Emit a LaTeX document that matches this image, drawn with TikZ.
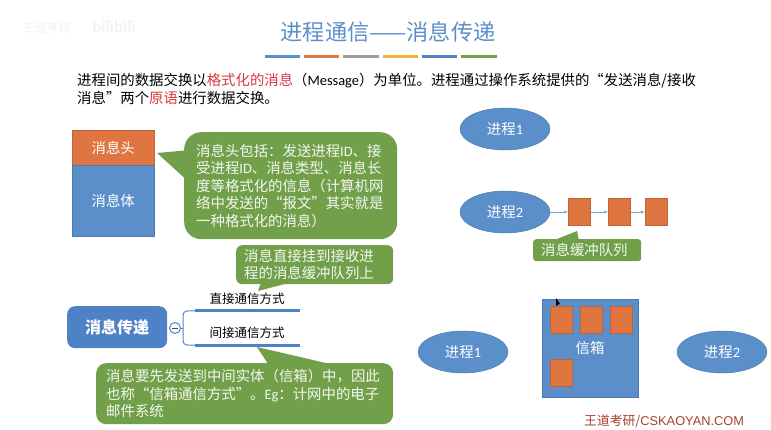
\documentclass[tikz,border=0pt]{standalone}
\usepackage{fontspec}
\setmainfont{Noto Sans CJK SC}
\newfontfamily\lat{Carlito}
\usetikzlibrary{shapes.geometric}
\definecolor{boxblue}{HTML}{5B8FC9}
\definecolor{boxorange}{HTML}{DF7540}
\definecolor{notegreen}{HTML}{72A04A}
\definecolor{rootblue}{HTML}{4F81C7}
\definecolor{redtext}{HTML}{D8383A}
\definecolor{baryellow}{HTML}{F4B33F}
\definecolor{markred}{HTML}{A5422C}
\tikzset{
  txt/.style={font=\fontsize{14.4}{17.5}\selectfont, inner sep=0pt},
  onfill/.style={txt, text=white, align=center},
  block/.style={draw=#1!85!black, fill=#1, inner sep=0pt, line width=0.5pt},
  process/.style={ellipse, block=boxblue, minimum width=90pt, minimum height=42pt, onfill},
  msgbox/.style={block=boxorange, minimum width=22pt, minimum height=27pt},
  note/.style={fill=notegreen, rounded corners=#1, inner sep=0pt, txt, text=white!92!notegreen},
  bar/.style={line width=3pt},
  branch/.style={draw=rootblue, line width=1pt, rounded corners=4pt},
  way/.style={font=\fontsize{12.5}{14}\selectfont, inner sep=0pt},
}
\begin{document}
\begin{tikzpicture}[x=1pt, y=-1pt]
\useasboundingbox (0,0) rectangle (771,430);
% logo and title
\node[font=\fontsize{12}{14}\selectfont, text=black!5, inner sep=0pt] (logo) at (47,28) {王道考研};
\node[font=\fontsize{17}{18}\selectfont\bfseries, text=black!5, inner sep=0pt] (bili) at (114,27) {\lat bilibili};
\node[font=\fontsize{22.2}{24}\selectfont, text=boxblue, inner sep=0pt] (title) at (388,32) {进程通信——消息传递};
\draw[bar, boxblue] (265,57) -- (300,57);
\draw[bar, boxorange] (304,57) -- (339,57);
\draw[bar, black!38] (343,57) -- (379,57);
\draw[bar, baryellow] (383,57) -- (418,57);
\draw[bar, rootblue] (422,57) -- (457,57);
\draw[bar, notegreen] (461,57) -- (497,57);
\node[txt, anchor=north west, align=left] (intro) at (77,73) {进程间的数据交换以\textcolor{redtext}{格式化的消息}（{\lat Message}）为单位。进程通过操作系统提供的“发送消息/接收\\消息”两个\textcolor{redtext}{原语}进行数据交换。};
% message structure
\node[block=boxorange, minimum width=82pt, minimum height=35pt, onfill, anchor=north west] (head) at (72,130) {消息头};
\node[block=boxblue, minimum width=82pt, minimum height=71pt, onfill, anchor=north] (body) at (head.south) {消息体};
\fill[notegreen] (157,153) -- (190,150) -- (190,183) -- cycle;
\node[note=17pt, minimum width=213pt, minimum height=107pt, align=left, text width=189pt, anchor=north west] (headnote) at (184,132) {消息头包括：发送进程{\lat ID}、接\\受进程{\lat ID}、消息类型、消息长\\度等格式化的信息（计算机网\\络中发送的“报文”其实就是\\一种格式化的消息）};
% two ways of passing messages
\fill[notegreen] (258,291) -- (262,280) -- (300,280) -- cycle;
\node[note=6pt, minimum width=157pt, minimum height=39pt, align=left, text width=141pt, anchor=north west] (directnote) at (236,245) {消息直接挂到接收进\\程的消息缓冲队列上};
\node[fill=rootblue, rounded corners=8pt, minimum width=100pt, minimum height=42pt, inner sep=0pt, text=white, font=\fontsize{16}{18}\selectfont\bfseries, anchor=north west] (root) at (67,306) {消息传递};
\node[circle, draw=rootblue, fill=white, line width=1pt, minimum size=11pt, inner sep=0pt] (fold) at (175,328) {};
\draw[line width=0.8pt, black!70] (172,328) -- (178,328);
\coordinate (fork) at (183,328);
\coordinate (directl) at (195,311);
\coordinate (directr) at (300,311);
\coordinate (indirectl) at (195,345);
\coordinate (indirectr) at (300,345);
\draw[branch] (fold) -- (fork);
\draw[branch] (fork) |- (directl);
\draw[branch] (fork) |- (indirectl);
\draw[bar, rootblue] (directl) -- (directr);
\draw[bar, rootblue] (indirectl) -- (indirectr);
\node[way] (direct) at (247,299) {直接通信方式};
\node[way] (indirect) at (247,333) {间接通信方式};
\fill[notegreen] (257,347) -- (270,367) -- (343,367) -- cycle;
\node[note=10pt, minimum width=297pt, minimum height=61pt, align=left, text width=277pt, anchor=north west] (indirectnote) at (96,363) {消息要先发送到中间实体（信箱）中，因此\\也称“信箱通信方式”。{\lat Eg}：计网中的电子\\邮件系统};
% buffer queue
\node[process] (procA) at (505,129) {进程{\lat 1}};
\node[process] (procB) at (505,212) {进程{\lat 2}};
\node[msgbox, anchor=west] (qa) at (568,212) {};
\node[msgbox, anchor=west] (qb) at (608,212) {};
\node[msgbox, anchor=west] (qc) at (645,212) {};
\draw[->, boxblue!80, >=latex] (procB) -- (qa);
\draw[->, boxblue!80, >=latex] (qa) -- (qb);
\draw[->, boxblue!80, >=latex] (qb) -- (qc);
\fill[notegreen] (577,231) -- (552,241) -- (579,241) -- cycle;
\node[note=3pt, minimum width=108pt, minimum height=22pt, align=left, text width=92pt, anchor=north west] (queuenote) at (533,239) {消息缓冲队列};
% mailbox
\node[process] (procC) at (463,352) {进程{\lat 1}};
\node[process] (procD) at (722,352) {进程{\lat 2}};
\node[block=boxblue, minimum width=96pt, minimum height=98pt, anchor=north west] (mailbox) at (542,299) {};
\node[onfill] (maillabel) at (590,348) {信箱};
\node[msgbox, anchor=north west] (ma) at (550,306) {};
\node[msgbox, anchor=north west] (mb) at (580,306) {};
\node[msgbox, anchor=north west] (mc) at (610,306) {};
\node[msgbox, anchor=north west] (md) at (550,359) {};
\fill[black] (556,298) -- (556,306) -- (558,304.5) -- (560,304) -- cycle;
\node[font=\fontsize{12.8}{15}\selectfont, text=markred, inner sep=0pt, anchor=west] (mark) at (584,421) {王道考研/\fontspec{Liberation Sans}CSKAOYAN.COM};
\end{tikzpicture}
\end{document}
